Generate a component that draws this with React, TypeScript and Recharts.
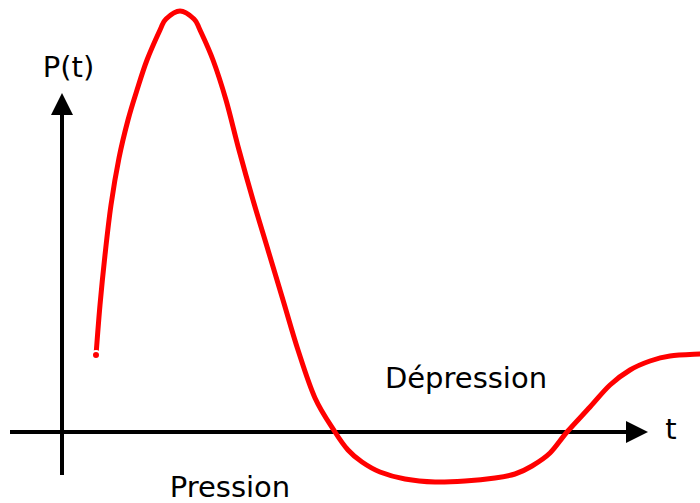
import React from 'react';
import { LineChart, Line, XAxis, YAxis, ReferenceLine, ReferenceDot } from 'recharts';

// pressure curve P(t), arbitrary units
const tValues = [3.4, 3.8, 4.3, 4.9, 5.7, 6.6, 7.5, 8.5, 9.8, 10.4, 11.8, 13.2, 13.8, 15.1, 16.4, 17.7, 19.1, 20.6, 22.1, 23.6, 25.3, 27.3, 28.6, 30.0, 31.8, 34.3, 37.3, 40.3, 43.3, 45.3, 47.0, 48.8, 50.5, 52.8, 54.8, 56.8, 58.8, 60.8, 63.8];
const pValues = [7.7, 12.7, 17.7, 22.7, 27.4, 31.2, 34.2, 37.2, 40.2, 41.3, 42.1, 41.3, 40.2, 37.2, 33.2, 28.2, 23.2, 18.2, 13.2, 8.2, 3.4, 0, -1.8, -3.0, -4.0, -4.7, -5.0, -4.9, -4.6, -4.2, -3.4, -2.1, 0, 2.5, 4.7, 6.2, 7.1, 7.6, 7.8];

const data = tValues.map((t, i) => ({ t, p: pValues[i] }));

const FONT = '"DejaVu Sans", Verdana, sans-serif';

// catmull-rom through the points, in screen space (handles the near vertical parts)
const smoothCurve = (context: any) => {
    let pts: number[][] = [];
    return {
        areaStart() {},
        areaEnd() {},
        lineStart() {
            pts = [];
        },
        point(x: number, y: number) {
            pts.push([+x, +y]);
        },
        lineEnd() {
            const n = pts.length;
            if (!n) return;
            context.moveTo(pts[0][0], pts[0][1]);
            for (let i = 0; i < n - 1; i++) {
                const p0 = pts[Math.max(i - 1, 0)];
                const p1 = pts[i];
                const p2 = pts[i + 1];
                const p3 = pts[Math.min(i + 2, n - 1)];
                context.bezierCurveTo(
                    p1[0] + (p2[0] - p0[0]) / 6,
                    p1[1] + (p2[1] - p0[1]) / 6,
                    p2[0] - (p3[0] - p1[0]) / 6,
                    p2[1] - (p3[1] - p1[1]) / 6,
                    p2[0],
                    p2[1],
                );
            }
        },
    };
};

const Arrow = (props: any) => {
    const { x1, y1, x2, y2 } = props;
    const dx = x2 - x1;
    const dy = y2 - y1;
    const len = Math.sqrt(dx * dx + dy * dy) || 1;
    const ux = dx / len;
    const uy = dy / len;
    const head = 22;
    const half = 11;
    const bx = x2 - ux * head;
    const by = y2 - uy * head;
    const pts = [
        `${x2},${y2}`,
        `${bx - uy * half},${by + ux * half}`,
        `${bx + uy * half},${by - ux * half}`,
    ].join(' ');
    return (
        <g>
            <line x1={x1} y1={y1} x2={bx + ux * 2} y2={by + uy * 2} stroke="#000" strokeWidth={4} />
            <polygon points={pts} fill="#000" />
        </g>
    );
};

const TextMark = (text: string) => (props: any) => (
    <text x={props.cx} y={props.cy} textAnchor="middle" fontSize={29} fontFamily={FONT} fill="#000">
        {text}
    </text>
);

const App = () => {
    return (
        <div style={{ position: 'absolute', left: 0, top: 0, background: '#fff' }}>
            <LineChart width={700} height={503} data={data} margin={{ top: 0, right: 0, left: 0, bottom: 0 }}>
                <XAxis type="number" dataKey="t" domain={[-6.2, 63.8]} hide />
                <YAxis type="number" domain={[-7.1, 43.2]} hide />
                <ReferenceLine segment={[{ x: -5.2, y: 0 }, { x: 58.6, y: 0 }]} shape={Arrow} ifOverflow="visible" />
                <ReferenceLine segment={[{ x: 0, y: -4.3 }, { x: 0, y: 33.9 }]} shape={Arrow} ifOverflow="visible" />
                <Line
                    type={smoothCurve as any}
                    dataKey="p"
                    stroke="#ff0000"
                    strokeWidth={5}
                    strokeLinecap="round"
                    strokeDasharray="none"
                    dot={false}
                    isAnimationActive={false}
                />
                <ReferenceDot x={0.65} y={35.5} r={0} shape={TextMark('P(t)')} />
                <ReferenceDot x={60.9} y={-0.7} r={0} shape={TextMark('t')} />
                <ReferenceDot x={40.4} y={4.4} r={0} shape={TextMark('Dépression')} />
                <ReferenceDot x={16.8} y={-6.5} r={0} shape={TextMark('Pression')} />
            </LineChart>
        </div>
    );
};

export default App;
